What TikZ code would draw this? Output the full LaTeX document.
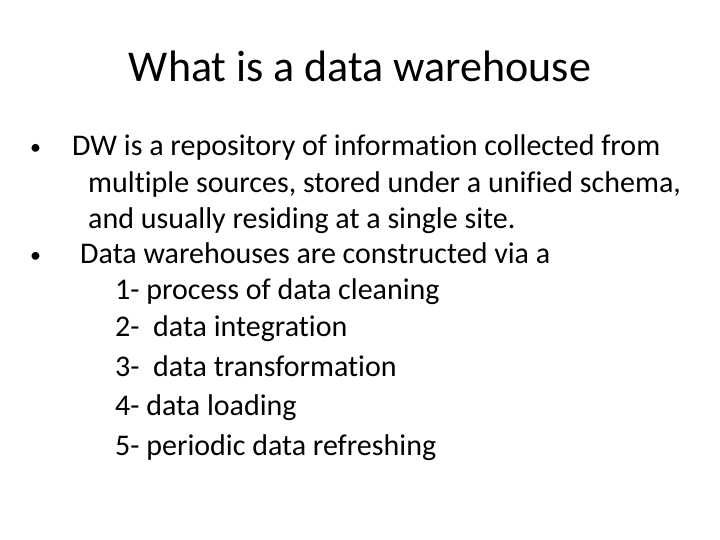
\documentclass[tikz,border=0pt]{standalone}
\usepackage{fontspec}
\setmainfont{Carlito}[Ligatures={NoCommon}]
\begin{document}
\begin{tikzpicture}[x=1pt,y=1pt,
  txt/.style={anchor=base west,inner sep=0pt,font=\fontsize{30}{34}\selectfont}]
\useasboundingbox (0,0) rectangle (720,540);
\fill[white] (0,0) rectangle (720,540);
\node[anchor=base,inner sep=0pt,font=\fontsize{44}{48}\selectfont] (title) at (360,540-82) {What is a data warehouse};
\node[txt,font=\fontsize{22}{26}\selectfont] (b1) at (30,540-155) {•};
\node[txt] (l1) at (72,540-156) {DW is a repository of information collected from};
\node[txt] (l2) at (88,540-193) {multiple sources, stored under a unified schema,};
\node[txt] (l3) at (88,540-229) {and usually residing at a single site.};
\node[txt,font=\fontsize{22}{26}\selectfont] (b2) at (30,540-263) {•};
\node[txt] (l4) at (80,540-264) {Data warehouses are constructed via a};
\node[txt] (l5) at (115,540-300) {1- process of data cleaning};
\node[txt] (l6) at (115,540-337) {2-\ \ data integration};
\node[txt] (l7) at (115,540-377) {3-\ \ data transformation};
\node[txt] (l8) at (115,540-416) {4- data loading};
\node[txt] (l9) at (115,540-456) {5- periodic data refreshing};
\end{tikzpicture}
\end{document}
